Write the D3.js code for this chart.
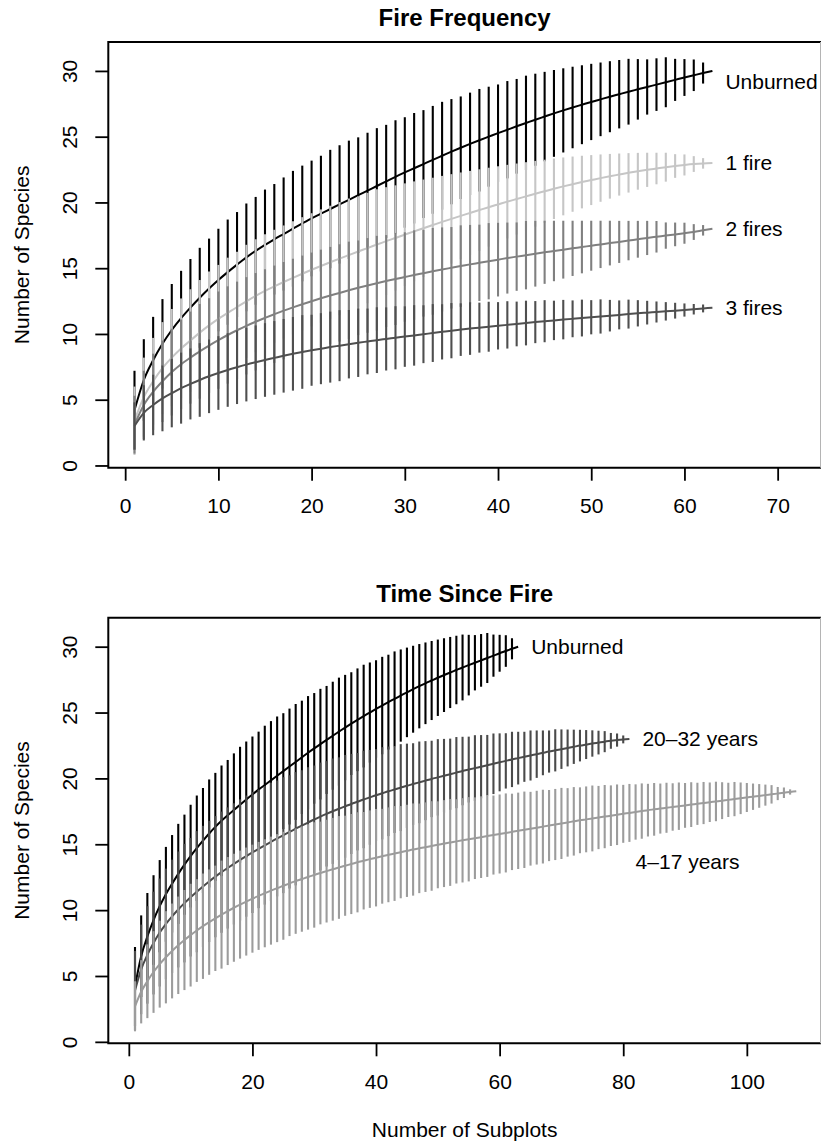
<!DOCTYPE html>
<html>
<head>
<meta charset="utf-8">
<script src="https://cdn.jsdelivr.net/npm/d3@7"></script>
<style>
  body { margin: 0; background: #fff; }
  svg { display: block; }
  text { font-family: "Liberation Sans", Arial, Helvetica, sans-serif; fill: #000; }
</style>
</head>
<body>
<svg id="chart" width="822" height="1147"></svg>
<script>
// ---- Species accumulation: mean richness and SD for 1..N subplots ----
const unburnedMean = [4.2,6.5,8.0,9.25,10.3,11.2,12.0,12.75,13.45,14.1,
  14.7,15.27,15.82,16.32,16.78,17.2,17.6,18.0,18.4,18.78,
  19.15,19.5,19.85,20.2,20.55,20.9,21.25,21.6,21.95,22.28,
  22.6,22.92,23.24,23.55,23.86,24.16,24.45,24.73,25.0,25.27,
  25.53,25.79,26.04,26.29,26.53,26.77,27.0,27.22,27.43,27.64,
  27.84,28.04,28.23,28.42,28.6,28.78,28.96,29.14,29.32,29.5,
  29.67,29.84,30.0];
const unburnedSD = [3.0,3.1,3.3,3.4,3.5,3.6,3.7,3.8,3.8,3.9,
  4.0,4.0,4.1,4.1,4.2,4.2,4.3,4.4,4.4,4.4,
  4.4,4.5,4.5,4.5,4.4,4.4,4.4,4.3,4.3,4.2,
  4.2,4.1,4.1,4.1,4.0,3.9,3.9,3.9,3.8,3.7,
  3.7,3.6,3.6,3.5,3.4,3.3,3.2,3.1,3.0,2.9,
  2.8,2.7,2.6,2.5,2.3,2.1,2.0,1.9,1.6,1.4,
  1.2,0.8,0];

const oneFireMean = [3.4,5.2,6.4,7.4,8.2,8.9,9.5,10.1,10.65,11.15,
  11.6,12.05,12.48,12.9,13.28,13.62,13.95,14.27,14.58,14.88,
  15.17,15.45,15.73,16.0,16.27,16.53,16.8,17.06,17.3,17.55,
  17.8,18.04,18.28,18.52,18.75,18.98,19.2,19.42,19.64,19.85,
  20.06,20.26,20.46,20.66,20.85,21.04,21.22,21.39,21.55,21.7,
  21.85,21.99,22.12,22.25,22.37,22.48,22.58,22.68,22.77,22.85,
  22.92,22.97,23.0];
const oneFireSD = [2.6,3.0,3.3,3.5,3.7,3.8,3.9,4.0,4.1,4.1,
  4.2,4.2,4.3,4.3,4.3,4.3,4.3,4.3,4.3,4.3,
  4.3,4.3,4.3,4.3,4.2,4.2,4.2,4.1,4.0,3.9,
  3.8,3.7,3.6,3.5,3.4,3.3,3.2,3.1,3.0,2.9,
  2.8,2.7,2.6,2.5,2.4,2.3,2.2,2.1,2.0,1.9,
  1.8,1.7,1.6,1.5,1.4,1.3,1.2,1.1,0.9,0.8,
  0.6,0.4,0];

const twoFiresMean = [3.1,4.6,5.6,6.4,7.1,7.7,8.2,8.68,9.12,9.53,
  9.92,10.28,10.62,10.93,11.22,11.5,11.77,12.02,12.26,12.49,
  12.71,12.92,13.12,13.32,13.51,13.69,13.86,14.02,14.18,14.33,
  14.48,14.62,14.76,14.9,15.03,15.16,15.29,15.41,15.53,15.65,
  15.77,15.88,15.99,16.1,16.21,16.31,16.41,16.51,16.61,16.71,
  16.81,16.91,17.0,17.1,17.2,17.3,17.39,17.48,17.57,17.66,
  17.75,17.88,18.0];
const twoFiresSD = [2.2,2.6,2.9,3.1,3.3,3.4,3.5,3.6,3.6,3.7,
  3.7,3.7,3.7,3.7,3.7,3.7,3.7,3.7,3.7,3.7,
  3.7,3.7,3.7,3.7,3.6,3.6,3.6,3.5,3.5,3.4,
  3.4,3.3,3.3,3.2,3.1,3.1,3.0,2.9,2.9,2.8,
  2.7,2.6,2.6,2.5,2.4,2.3,2.2,2.1,2.0,1.9,
  1.8,1.7,1.6,1.5,1.4,1.3,1.2,1.0,0.9,0.8,
  0.6,0.4,0];

const threeFiresMean = [3.0,4.0,4.6,5.1,5.5,5.88,6.2,6.5,6.78,7.03,
  7.26,7.47,7.67,7.85,8.02,8.18,8.34,8.49,8.63,8.76,
  8.88,9.0,9.11,9.22,9.33,9.43,9.53,9.62,9.71,9.8,
  9.89,9.98,10.07,10.16,10.25,10.33,10.41,10.48,10.55,10.62,
  10.69,10.76,10.83,10.9,10.97,11.03,11.09,11.15,11.21,11.27,
  11.33,11.39,11.45,11.51,11.57,11.62,11.67,11.72,11.77,11.82,
  11.88,11.94,12.0];
const threeFiresSD = [1.8,2.1,2.3,2.5,2.6,2.7,2.7,2.8,2.8,2.8,
  2.8,2.8,2.8,2.8,2.8,2.8,2.8,2.8,2.8,2.7,
  2.7,2.7,2.7,2.6,2.6,2.5,2.5,2.4,2.4,2.3,
  2.3,2.2,2.2,2.1,2.1,2.0,2.0,1.9,1.9,1.8,
  1.8,1.7,1.7,1.6,1.6,1.5,1.5,1.4,1.4,1.3,
  1.3,1.2,1.1,1.1,1.0,0.9,0.8,0.7,0.6,0.5,
  0.4,0.3,0];

const midAgeMean = [3.9,5.5,6.6,7.5,8.3,8.95,9.53,10.05,10.53,10.98,
  11.4,11.8,12.18,12.54,12.88,13.2,13.51,13.81,14.1,14.38,
  14.65,14.92,15.18,15.44,15.69,15.94,16.18,16.42,16.65,16.88,
  17.1,17.31,17.51,17.7,17.88,18.06,18.23,18.4,18.56,18.72,
  18.87,19.02,19.16,19.3,19.44,19.57,19.7,19.83,19.96,20.08,
  20.2,20.32,20.44,20.56,20.67,20.78,20.89,21.0,21.11,21.22,
  21.33,21.44,21.54,21.64,21.74,21.84,21.94,22.04,22.13,22.22,
  22.31,22.4,22.49,22.57,22.65,22.72,22.79,22.85,22.91,22.96,
  23.0];
const midAgeSD = [3.0,3.4,3.7,3.9,4.1,4.2,4.3,4.4,4.5,4.5,
  4.6,4.6,4.6,4.6,4.6,4.6,4.6,4.6,4.6,4.6,
  4.5,4.5,4.5,4.4,4.4,4.3,4.3,4.2,4.2,4.1,
  4.1,4.0,4.0,3.9,3.9,3.8,3.7,3.7,3.6,3.5,
  3.5,3.4,3.3,3.3,3.2,3.1,3.1,3.0,2.9,2.9,
  2.8,2.7,2.7,2.6,2.5,2.5,2.4,2.3,2.3,2.2,
  2.1,2.1,2.0,1.9,1.9,1.8,1.7,1.6,1.6,1.5,
  1.4,1.3,1.2,1.1,1.0,0.9,0.8,0.6,0.5,0.3,
  0];

const youngMean = [2.7,3.8,4.6,5.3,5.9,6.42,6.9,7.33,7.73,8.1,
  8.45,8.78,9.09,9.38,9.66,9.93,10.18,10.42,10.65,10.87,
  11.08,11.28,11.48,11.67,11.85,12.03,12.2,12.36,12.52,12.67,
  12.82,12.96,13.1,13.24,13.37,13.5,13.63,13.75,13.87,13.98,
  14.09,14.2,14.3,14.4,14.5,14.6,14.69,14.78,14.87,14.96,
  15.05,15.14,15.22,15.3,15.38,15.46,15.54,15.62,15.7,15.78,
  15.86,15.94,16.02,16.1,16.18,16.26,16.34,16.42,16.5,16.58,
  16.66,16.74,16.82,16.89,16.96,17.03,17.1,17.17,17.24,17.31,
  17.38,17.45,17.52,17.59,17.65,17.71,17.77,17.83,17.89,17.95,
  18.01,18.07,18.13,18.19,18.25,18.31,18.37,18.43,18.49,18.55,
  18.61,18.67,18.73,18.79,18.85,18.91,18.97,19.03];
const youngSD = [1.9,2.4,2.8,3.1,3.3,3.5,3.6,3.7,3.8,3.9,
  3.9,4.0,4.0,4.0,4.1,4.1,4.1,4.1,4.1,4.1,
  4.1,4.1,4.1,4.1,4.1,4.0,4.0,4.0,4.0,4.0,
  3.9,3.9,3.9,3.9,3.8,3.8,3.8,3.7,3.7,3.7,
  3.6,3.6,3.6,3.5,3.5,3.5,3.4,3.4,3.4,3.3,
  3.3,3.3,3.2,3.2,3.2,3.1,3.1,3.1,3.0,3.0,
  3.0,2.9,2.9,2.9,2.8,2.8,2.8,2.7,2.7,2.7,
  2.6,2.6,2.5,2.5,2.5,2.4,2.4,2.3,2.3,2.2,
  2.2,2.1,2.1,2.0,2.0,1.9,1.9,1.8,1.8,1.7,
  1.7,1.6,1.6,1.5,1.5,1.4,1.3,1.3,1.2,1.1,
  1.0,0.9,0.8,0.7,0.5,0.4,0.2,0];

const speciesTicks = [0, 5, 10, 15, 20, 25, 30];
const frequencyTicks = [0, 10, 20, 30, 40, 50, 60, 70];
const timeTicks = [0, 20, 40, 60, 80, 100];

// ---- Drawing ----
const svg = d3.select("#chart");
const FONT = 21;

function drawPanel(p) {
  const x = d3.scaleLinear().domain(p.xDomain).range([p.left, p.right]);
  const y = d3.scaleLinear().domain(p.yDomain).range([p.bottom, p.top]);
  const g = svg.append("g");

  // curves: error bars first, then the mean line, series by series
  p.series.forEach(s => {
    const pts = s.mean.map((m, i) => ({ n: i + 1, m: m, sd: s.sd[i] }));
    g.append("g").selectAll("line")
      .data(pts.filter(d => d.sd > 0))
      .join("line")
      .attr("x1", d => x(d.n)).attr("x2", d => x(d.n))
      .attr("y1", d => y(d.m - d.sd)).attr("y2", d => y(d.m + d.sd))
      .attr("stroke", s.color).attr("stroke-width", 2.1);
    g.append("path").datum(pts)
      .attr("d", d3.line().curve(d3.curveMonotoneX).x(d => x(d.n)).y(d => y(d.m)))
      .attr("fill", "none").attr("stroke", s.color).attr("stroke-width", 2);
  });

  // curve labels
  p.series.forEach(s => {
    const last = s.mean.length;
    const lx = s.labelAt ? x(s.labelAt[0]) : x(last) + 13;
    const ly = s.labelAt ? y(s.labelAt[1]) : y(s.mean[last - 1]) + (s.labelDy || 0);
    g.append("text").attr("x", lx).attr("y", ly).attr("dy", "0.35em")
      .attr("font-size", FONT).text(s.name);
  });

  // frame
  g.append("path")
    .attr("d", `M${p.right},${p.top}H${p.left}V${p.bottom}H${p.right}`)
    .attr("fill", "none").attr("stroke", "#000").attr("stroke-width", 2);
  g.append("line").attr("x1", 820.5).attr("x2", 820.5)
    .attr("y1", p.top).attr("y2", p.bottom)
    .attr("stroke", "#b4b4b4").attr("stroke-width", 1);

  // axes
  const xAxis = d3.axisBottom(x).tickValues(p.xTicks).tickSize(13).tickSizeOuter(0).tickPadding(17.5);
  const gx = g.append("g").attr("transform", `translate(0,${p.bottom})`).call(xAxis);
  gx.select(".domain").remove();
  gx.selectAll(".tick line").attr("stroke", "#000").attr("stroke-width", 1.8);
  gx.selectAll(".tick text").attr("font-size", FONT).attr("font-family", null).attr("fill", "#000");

  const yAxis = d3.axisLeft(y).tickValues(speciesTicks).tickSize(13).tickSizeOuter(0);
  const gy = g.append("g").attr("transform", `translate(${p.left},0)`).call(yAxis);
  gy.select(".domain").remove();
  gy.selectAll(".tick line").attr("stroke", "#000").attr("stroke-width", 1.8);
  gy.selectAll(".tick text")
    .attr("font-size", FONT).attr("font-family", null).attr("fill", "#000")
    .attr("x", null).attr("dy", null)
    .attr("text-anchor", "middle")
    .attr("transform", "translate(-31,0) rotate(-90)");

  // title and axis titles
  g.append("text").attr("x", (p.left + p.right) / 2).attr("y", p.top - 16)
    .attr("text-anchor", "middle").attr("font-size", 24).attr("font-weight", "bold")
    .text(p.title);
  g.append("text")
    .attr("transform", `translate(28.5,${(p.top + p.bottom) / 2}) rotate(-90)`)
    .attr("text-anchor", "middle").attr("font-size", FONT)
    .text("Number of Species");
  if (p.xTitle) {
    g.append("text").attr("x", (p.left + p.right) / 2).attr("y", p.bottom + 94)
      .attr("text-anchor", "middle").attr("font-size", FONT).text(p.xTitle);
  }
}

drawPanel({
  title: "Fire Frequency",
  left: 108.3, right: 821, top: 42, bottom: 467.7,
  xDomain: [-1.81, 74.65], yDomain: [-0.17, 32.2],
  xTicks: frequencyTicks,
  series: [
    { name: "Unburned", mean: unburnedMean, sd: unburnedSD, color: "#000000", labelDy: 11 },
    { name: "1 fire", mean: oneFireMean, sd: oneFireSD, color: "#c6c6c6" },
    { name: "2 fires", mean: twoFiresMean, sd: twoFiresSD, color: "#808080" },
    { name: "3 fires", mean: threeFiresMean, sd: threeFiresSD, color: "#4f4f4f" }
  ]
});

drawPanel({
  title: "Time Since Fire",
  left: 108.3, right: 821, top: 617.7, bottom: 1043.3,
  xDomain: [-3.32, 112.0], yDomain: [-0.11, 32.2],
  xTicks: timeTicks,
  xTitle: "Number of Subplots",
  series: [
    { name: "Unburned", mean: unburnedMean, sd: unburnedSD, color: "#000000" },
    { name: "20\u201332 years", mean: midAgeMean, sd: midAgeSD, color: "#4a4a4a" },
    { name: "4\u201317 years", mean: youngMean, sd: youngSD, color: "#9c9c9c", labelAt: [82, 13.7] }
  ]
});
</script>
</body>
</html>
